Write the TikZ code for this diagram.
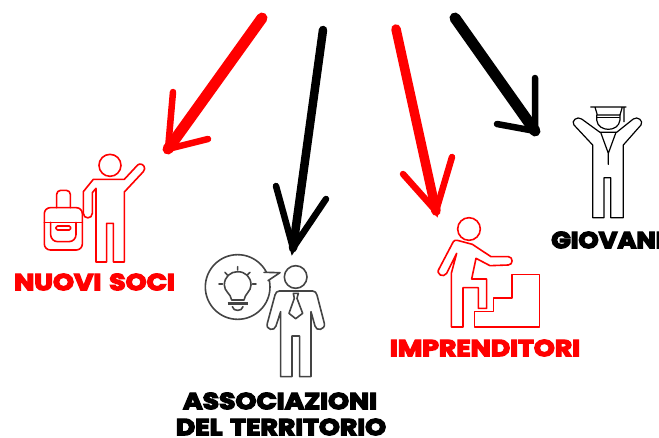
\documentclass[tikz,border=0pt]{standalone}
\usepackage{fontspec}
\usetikzlibrary{calc}
\newfontfamily\lab[FakeBold=6,FakeStretch=1.16,WordSpace=1.4]{Poppins Bold}
\newfontfamily\labn[FakeBold=6,FakeStretch=1.12]{Poppins Bold}
\tikzset{
 px/.style={x=1pt,y=-1pt},
 zoomed/.style={x=0.3333pt,y=-0.3333pt},
 shaft/.style={line cap=round,line join=round},
 head/.style={line width=6.5pt,line cap=round,line join=miter,miter limit=20},
 ic/.style={line width=1.6pt,line join=round,line cap=round},
 lbl/.style={inner sep=0pt,font=\lab\fontsize{23}{26}\selectfont},
 lbln/.style={inner sep=0pt,font=\labn\fontsize{23}{26}\selectfont}
}
\definecolor{gr}{HTML}{444444}
\begin{document}
\begin{tikzpicture}[px]
\useasboundingbox (0,0) rectangle (659,437);
% arrows
\coordinate (s1) at (262,18); \coordinate (t1) at (168,149); \coordinate (l1) at (173,92); \coordinate (r1) at (208,139);
\coordinate (s2) at (323,30); \coordinate (t2) at (293,248); \coordinate (l2) at (276,186); \coordinate (r2) at (326,199);
\coordinate (s3) at (396,29); \coordinate (t3) at (436,211); \coordinate (l3) at (403,174); \coordinate (r3) at (452,157);
\coordinate (s4) at (455,18); \coordinate (t4) at (535,131); \coordinate (l4) at (497,124); \coordinate (r4) at (535,78);
\draw[red,shaft,line width=11pt] (s1)--(t1);
\draw[red,head] (l1)--(t1)--(r1);
\fill[red] (t1)--($(t1)!0.3!(l1)$)--($(t1)!0.3!(r1)$)--cycle;
\draw[shaft,line width=8.5pt] (s2)--(t2);
\draw[head] (l2)--(t2)--(r2);
\fill (t2)--($(t2)!0.3!(l2)$)--($(t2)!0.3!(r2)$)--cycle;
\draw[red,shaft,line width=9.5pt] (s3)--(t3);
\draw[red,head] (l3)--(t3)--(r3);
\fill[red] (t3)--($(t3)!0.3!(l3)$)--($(t3)!0.3!(r3)$)--cycle;
\draw[shaft,line width=11pt] (s4)--(t4);
\draw[head] (l4)--(t4)--(r4);
\fill (t4)--($(t4)!0.3!(l4)$)--($(t4)!0.3!(r4)$)--cycle;
% nuovi soci
\begin{scope}[shift={(0,130)},zoomed,red,ic]
\draw (330,106) circle (33);
\draw (280,148)--(373,148)--(413,105) .. controls (420,98) and (434,104) .. (434,116) .. controls (434,120) and (432,122) .. (430,125)--(373,186)--(373,396)--(340,396)--(340,280)--(320,280)--(320,396)--(288,396)--(288,175)--(277,188)--(277,250) .. controls (277,268) and (250,268) .. (250,250)--(250,185)--cycle;
\draw[rounded corners=6pt] (133,233) rectangle (247,360);
\draw[rounded corners=4pt] (170,233)--(170,181)--(211,181)--(211,233);
\draw (133,277)--(247,277);
\draw[rounded corners=7pt] (152,277)--(152,335)--(228,335)--(228,277);
\draw[rounded corners=1.5pt] (168,288) rectangle (212,300);
\end{scope}
% associazioni
\begin{scope}[shift={(190,240)},zoomed,gr,ic]
\draw (317,111) circle (34);
\draw (143,141) circle (97);
\fill[white] (222,97)--(270,98)--(234,122)--(225,120)--cycle;
\draw (222,97)--(270,98)--(234,122);
\draw (268,153)--(368,153) .. controls (375,153) and (379,158) .. (381,165)--(403,250) .. controls (407,270) and (378,275) .. (375,258)--(363,215)--(363,410)--(329,410)--(329,288)--(306,288)--(306,410)--(272,410)--(272,215)--(258,258) .. controls (254,275) and (226,270) .. (232,250)--(255,165) .. controls (257,158) and (261,153) .. (268,153)--cycle;
\draw (310,160)--(325,160)--(321,175)--(338,220)--(317,236)--(297,220)--(313,175)--cycle;
\draw (125,180) .. controls (122,160) and (103,155) .. (103,135) .. controls (103,110) and (122,95) .. (143,95) .. controls (165,95) and (183,110) .. (183,135) .. controls (183,155) and (165,160) .. (162,180)--cycle;
\draw[line width=2.6pt,line cap=butt] (113,191)--(173,191);
\draw (127,200) .. controls (130,215) and (156,215) .. (159,200);
\draw (143,80)--(143,90) (105,97)--(112,105) (180,97)--(172,105) (87,132)--(98,132) (187,132)--(198,132);
\end{scope}
% imprenditori
\begin{scope}[shift={(385,205)},zoomed,red,ic]
\draw (252,72) circle (34);
\draw (205,110) .. controls (208,106) and (212,105) .. (217,106)--(262,118)--(318,155)--(370,155) .. controls (385,155) and (385,180) .. (370,180)--(315,182)--(273,160)--(260,222)--(305,222)--(305,310)--(280,310)--(280,248)--(234,248)--(234,366)--(199,366)--(199,205)--(215,145)--(185,205) .. controls (176,220) and (150,208) .. (163,190)--cycle;
\draw (269,366)--(269,320)--(326,320)--(326,279)--(381,279)--(381,209)--(464,209)--(464,366)--cycle;
\end{scope}
% giovani
\begin{scope}[shift={(540,95)},zoomed,black,ic,line width=1.2pt]
\draw (152,36)--(258,36) (165,36)--(172,60)--(240,60)--(247,36) (252,36)--(252,80);
\draw (170,60)--(170,75) .. controls (172,95) and (190,103) .. (205,103) .. controls (220,103) and (238,95) .. (240,75)--(240,60);
\draw (172,68)--(238,68);
\draw (180,112)--(230,112)--(280,72) .. controls (292,62) and (312,78) .. (303,90)--(250,150)--(250,368)--(212,368)--(212,248)--(192,248)--(192,368)--(158,368)--(158,150)--(102,90) .. controls (92,78) and (112,62) .. (125,72)--cycle;
\draw (182,112)--(205,175)--(228,112) (205,175)--(205,208);
\end{scope}
% labels
\node[lbl,red,anchor=center] (n1) at (94.5,282) {NUOVI SOCI};
\node[lbl,anchor=center] (n2) at (280,401) {ASSOCIAZIONI};
\node[lbl,anchor=center] (n3) at (281,427) {DEL TERRITORIO};
\node[lbl,red,anchor=center] (n4) at (485,348) {IMPRENDITORI};
\node[lbln,anchor=west] (n5) at (551,240) {GIOVANI};
\end{tikzpicture}
\end{document}
